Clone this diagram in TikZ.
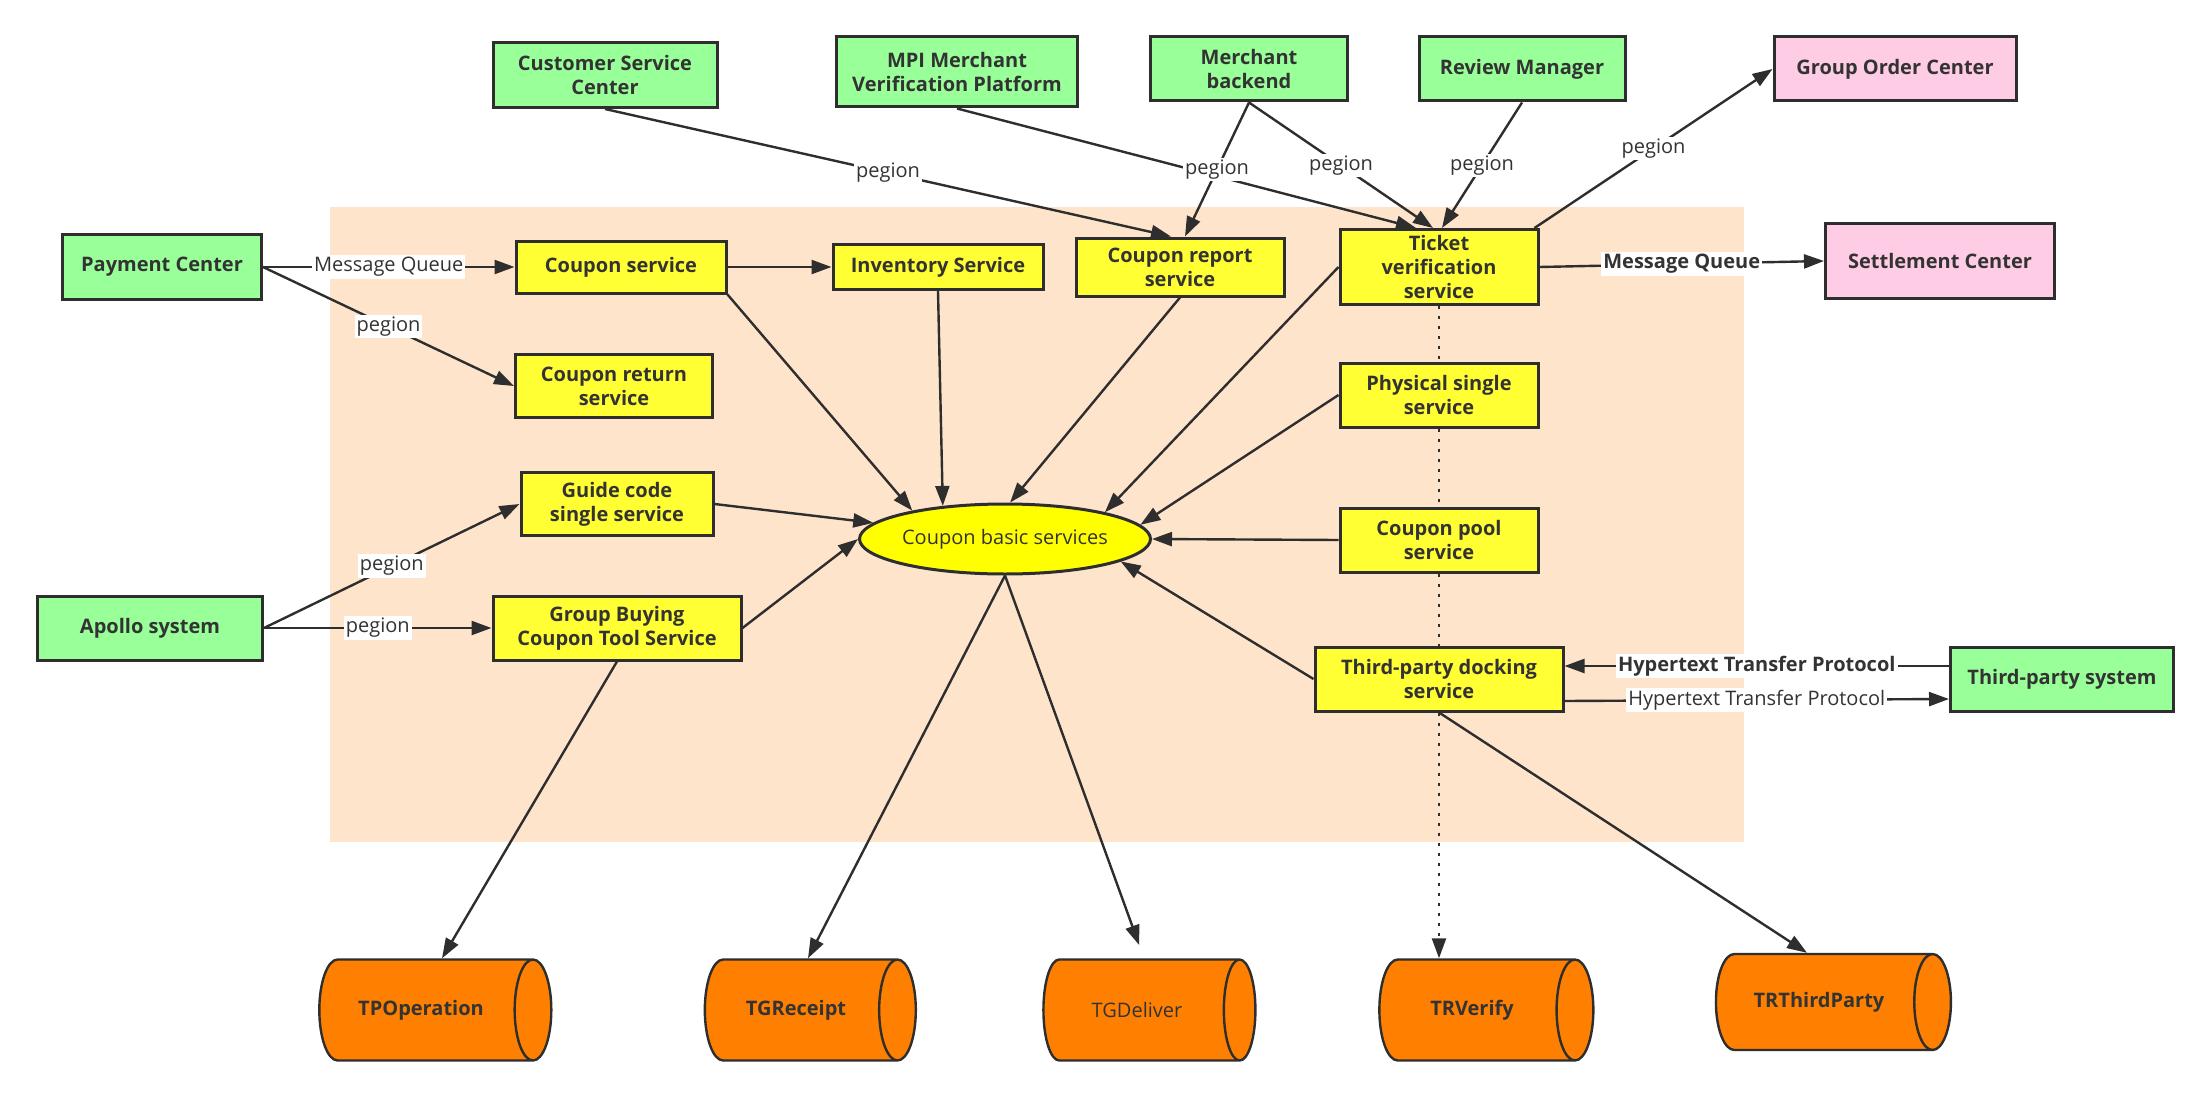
\documentclass[tikz,border=0pt]{standalone}
\usepackage{fontspec}
\setmainfont{Open Sans}
\usepackage{xcolor}
\usepackage{tikz}
\usetikzlibrary{shapes.geometric,arrows.meta}
\definecolor{CpGreen}{HTML}{99FF99}
\definecolor{CpYellow}{HTML}{FFFF33}
\definecolor{CpCore}{HTML}{FFFF00}
\definecolor{CpPink}{HTML}{FFCCE6}
\definecolor{CpOrange}{HTML}{FF8000}
\definecolor{CpZone}{HTML}{FFE4CC}
\definecolor{CpLine}{HTML}{2E2E2E}
\definecolor{CpText}{HTML}{333333}

\begin{document}
\begin{tikzpicture}[x=0.5pt,y=-0.5pt,
  box/.style={draw=CpLine,line width=1.5pt,inner sep=1pt,align=center,text=CpText,
    font=\fontsize{10}{12}\selectfont\bfseries},
  ext/.style={box,fill=CpGreen},
  sinkbox/.style={box,fill=CpPink},
  svc/.style={box,fill=CpYellow},
  core/.style={ellipse,draw=CpLine,line width=1.5pt,fill=CpCore,inner sep=0pt,text=CpText,
    font=\fontsize{10}{12}\selectfont,minimum width=135pt,minimum height=35pt},
  store/.style={cylinder,draw=CpLine,line width=1.2pt,aspect=1.1,text=CpText,
    cylinder uses custom fill,cylinder body fill=CpOrange,cylinder end fill=CpOrange,
    font=\fontsize{10}{12}\selectfont\bfseries,minimum width=50.5pt},
  link/.style={draw=CpLine,line width=1.2pt,-{Triangle[length=10pt,width=7pt]}},
  dots/.style={draw=CpLine,line width=1.2pt,dash pattern=on 1.5pt off 3.5pt},
  lbl/.style={fill=white,inner sep=1pt,text=CpText,font=\fontsize{10}{12}\selectfont},
  lblb/.style={lbl,font=\fontsize{10}{12}\selectfont\bfseries}]
\path[use as bounding box] (0,0) rectangle (2212,1097);
\fill[CpZone] (330,207) rectangle (1744,842);

\node[ext,minimum width=112pt,minimum height=32.5pt] (cust) at (605,75) {Customer Service\\Center};
\node[ext,minimum width=120.5pt,minimum height=35pt] (mpi) at (957,72) {MPI Merchant\\Verification Platform};
\node[ext,minimum width=98.5pt,minimum height=32pt] (mb) at (1249,69) {Merchant\\backend};
\node[ext,minimum width=103pt,minimum height=32pt] (rm) at (1522,69) {Review Manager};
\node[sinkbox,minimum width=121pt,minimum height=32pt] (goc) at (1895,69) {Group Order Center};
\node[ext,minimum width=99.5pt,minimum height=32.5pt] (pay) at (162,267) {Payment Center};
\node[svc,minimum width=105pt,minimum height=26pt] (cs) at (621,267) {Coupon service};
\node[svc,minimum width=105pt,minimum height=22.5pt] (inv) at (938,267) {Inventory Service};
\node[svc,minimum width=104pt,minimum height=29pt] (crs) at (1180,267) {Coupon report\\service};
\node[svc,minimum width=99pt,minimum height=37.5pt] (tvs) at (1439,267) {Ticket\\verification\\service};
\node[sinkbox,minimum width=114.5pt,minimum height=37.5pt] (sc) at (1940,261) {Settlement Center};
\node[svc,minimum width=98.5pt,minimum height=31.5pt] (crt) at (614,386) {Coupon return\\service};
\node[svc,minimum width=99pt,minimum height=32pt] (pss) at (1439,395) {Physical single\\service};
\node[svc,minimum width=96pt,minimum height=31.5pt] (gcs) at (617,504) {Guide code\\single service};
\node[core] (cbs) at (1005,539) {Coupon basic services};
\node[svc,minimum width=99pt,minimum height=32pt] (cps) at (1439,540) {Coupon pool\\service};
\node[ext,minimum width=112.5pt,minimum height=32pt] (apo) at (150,628) {Apollo system};
\node[svc,minimum width=124pt,minimum height=32pt] (gbt) at (617,628) {Group Buying\\Coupon Tool Service};
\node[svc,minimum width=124pt,minimum height=32pt] (tpd) at (1439,679) {Third-party docking\\service};
\node[ext,minimum width=111.5pt,minimum height=32pt] (tps) at (2062,679) {Third-party system};
\node[store,minimum height=116pt] (tpo) at (421,1010) {TPOperation};
\node[store,minimum height=105.5pt] (tgr) at (796,1010) {TGReceipt};
\node[store,minimum height=106pt,font=\fontsize{10}{12}\selectfont] (tgd) at (1137,1010) {TGDeliver};
\node[store,minimum height=107pt] (trv) at (1472,1010) {TRVerify};
\node[store,minimum height=117.5pt,minimum width=48pt] (trt) at (1819,1002) {TRThirdParty};

\draw[link] (pay.east) -- node[lbl]{Message Queue} (cs.west);
\draw[link] (pay.east) -- node[lbl]{pegion} (crt.west);
\draw[link] (cs.east) -- (inv.west);
\draw[link] (cust.south) -- node[lbl]{pegion} ([xshift=-4.5pt]crs.north);
\draw[link] (mpi.south) -- ([xshift=-11.5pt]tvs.north);
\draw[link] (mb.south) -- node[lbl]{pegion} ([xshift=2.5pt]crs.north);
\draw[link] (mb.south) -- node[lbl]{pegion} ([xshift=-3pt]tvs.north);
\draw[link] (rm.south) -- node[lbl]{pegion} ([xshift=1.5pt]tvs.north);
\draw[link] ([xshift=-2.5pt]tvs.north east) -- node[lbl]{pegion} (goc.west);
\draw[link] (tvs.east) -- node[lblb]{Message Queue} (sc.west);
\draw[link] (cs.south east) -- (cbs.163);
\draw[link] (inv.south) -- (cbs.152);
\draw[link] (crs.south) -- (cbs.82);
\draw[link] (tvs.west) -- (cbs.15);
\draw[link] (pss.west) -- (cbs.6);
\draw[link] (cps.west) -- (cbs.east);
\draw[link] (tpd.west) -- (cbs.-11);
\draw[link] (gcs.east) -- (cbs.173);
\draw[link] (gbt.east) -- (cbs.west);
\draw[link] (apo.east) -- node[lbl]{pegion} (gcs.west);
\draw[link] (apo.east) -- node[lbl]{pegion} (gbt.west);
\draw[link] (gbt.south) -- ([xshift=10.5pt]tpo.north);
\draw[link] (cbs.south) -- ([xshift=6pt]tgr.north);
\draw[link,shorten >=7pt] (cbs.south) -- ([xshift=3.5pt]tgd.north);
\draw[dots] (tvs.south) -- (pss.north);
\draw[dots] (pss.south) -- (cps.north);
\draw[dots] (cps.south) -- (tpd.north);
\draw[dots,-{Triangle[length=10pt,width=7pt]}] (tpd.south) -- (tpd.south |- trv.north);
\draw[link] (tpd.south) -- ([xshift=-6pt]trt.north);
\draw[link] ([yshift=6.5pt]tps.west) -- node[lblb]{Hypertext Transfer Protocol} ([yshift=6.5pt]tpd.east);
\draw[link] ([yshift=-11pt]tpd.east) -- node[lbl]{Hypertext Transfer Protocol} ([yshift=-10pt]tps.west);
\end{tikzpicture}
\end{document}
